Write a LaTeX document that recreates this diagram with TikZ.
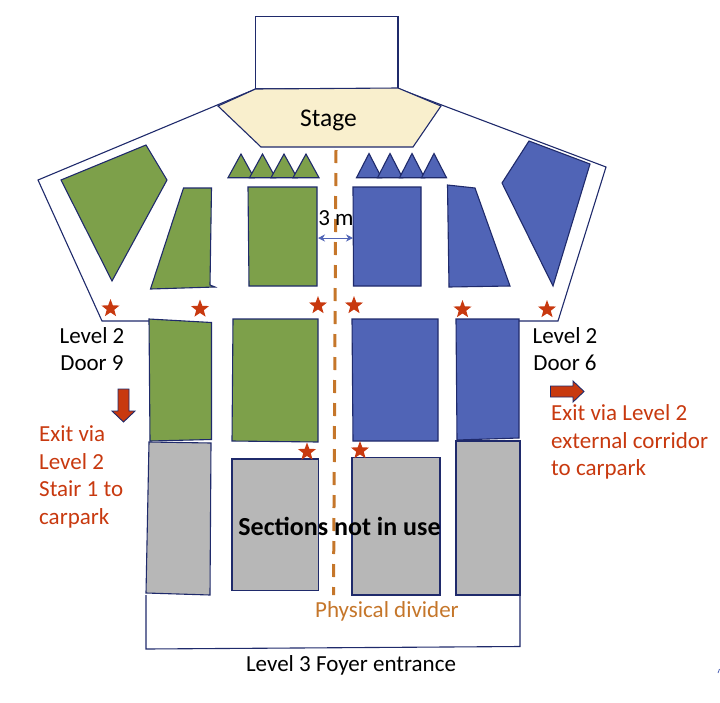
\documentclass[tikz,border=0pt]{standalone}
\usepackage{fontspec}
\setmainfont{Carlito}
\usetikzlibrary{shapes.geometric,arrows.meta}
\definecolor{navy}{HTML}{1F2A6B}
\definecolor{seatgreen}{HTML}{7DA04A}
\definecolor{seatblue}{HTML}{5064B6}
\definecolor{seatgray}{HTML}{B7B7B7}
\definecolor{stagefill}{HTML}{F9EFCD}
\definecolor{dividerorange}{HTML}{C5762A}
\definecolor{exitred}{HTML}{C8390F}
\tikzset{
  wall/.style={draw=navy,line width=1.1pt,line join=miter},
  greenseat/.style={wall,fill=seatgreen},
  blueseat/.style={wall,fill=seatblue},
  grayseat/.style={wall,fill=seatgray},
  stagearea/.style={wall,fill=stagefill},
  exitarrow/.style={draw=navy,line width=0.9pt,fill=exitred},
  exitstar/.style={star,star points=5,star point ratio=2.4,fill=exitred,inner sep=0pt,minimum size=19pt},
  lbl/.style={inner sep=0pt,text=black,font=\fontsize{23}{27.5}\selectfont,align=center},
  redlbl/.style={inner sep=0pt,text=exitred,font=\fontsize{23}{27.8}\selectfont,align=left,anchor=west},
}
\begin{document}
\begin{tikzpicture}[x=1pt,y=-1pt]
\useasboundingbox (0,0) rectangle (720,702);
% outline
\draw[wall] (255.5,16.5) rectangle (398,88.5);
\draw[wall] (149,321) -- (102,321) -- (38,180) -- (255.5,89);
\draw[wall] (398,88.5) -- (606,167) -- (558,321) -- (519,321);
\draw[wall] (146,595) -- (146,649) -- (520,646.5) -- (520,595);
% stage
\draw[stagearea] (218,106) -- (255.5,89) -- (398,88) -- (441,106) -- (413,147) -- (261,147) -- cycle;
% green upper
\draw[greenseat] (61,180) -- (146,145) -- (167,180) -- (112,281) -- cycle;
\draw[greenseat] (183.5,188) -- (211.5,188) -- (210,285) -- (215,287) -- (150.5,289) -- cycle;
\draw[greenseat] (248,187) -- (317,187) -- (317,286) -- (249,286) -- cycle;
\foreach \a in {241,262.5,284,306}
  \draw[greenseat] (\a-13,177.7) -- (\a,154) -- (\a+13,177.7) -- cycle;
% blue upper
\foreach \a in {369,390,412,434}
  \draw[blueseat] (\a-12.5,177.7) -- (\a,153.5) -- (\a+12.5,177.7) -- cycle;
\draw[blueseat] (353,187) -- (421,187) -- (421,286) -- (353.5,286) -- cycle;
\draw[blueseat] (447.5,185) -- (475,188) -- (510,286) -- (449,287) -- cycle;
\draw[blueseat] (529,141) -- (590,164) -- (553,286) -- (502,183) -- cycle;
% gray
\draw[grayseat] (149,442) -- (211,443) -- (210,595) -- (146,593) -- cycle;
\draw[grayseat] (232,459) rectangle (318.5,590.5);
\draw[grayseat] (352,457.5) rectangle (440,595);
\draw[grayseat] (456,441) rectangle (520,595);
% lower green and blue
\draw[greenseat] (149,319) -- (211.5,322.5) -- (211.5,439.5) -- (150,441) -- cycle;
\draw[greenseat] (233,319) -- (318,319) -- (318,442) -- (232,441) -- cycle;
\draw[blueseat] (352,319) -- (438,319) -- (438,441) -- (353,441) -- cycle;
\draw[blueseat] (456,319) -- (519,319) -- (519,438) -- (457,440) -- cycle;
% divider
\coordinate (divtop) at (336,150);
\coordinate (divbottom) at (333.5,595);
\draw[dividerorange,line width=3pt,dash pattern=on 13pt off 10pt] (divtop) -- (divbottom);
% stars
\node[exitstar] (s1) at (110.5,308.5) {};
\node[exitstar] (s2) at (200,309) {};
\node[exitstar] (s3) at (318,305.5) {};
\node[exitstar] (s4) at (354,305.5) {};
\node[exitstar] (s5) at (462.5,309.5) {};
\node[exitstar] (s6) at (547,309.5) {};
\node[exitstar] (s7) at (307,452) {};
\node[exitstar] (s8) at (360,450.5) {};
% 3 m arrow
\coordinate (gapl) at (318,238);
\coordinate (gapr) at (353,238);
\draw[seatblue,line width=0.9pt,{Stealth[length=7pt,width=7pt]}-{Stealth[length=7pt,width=7pt]}] (gapl) -- (gapr);
% exit arrows
\draw[exitarrow] (118,389) -- (129,389) -- (129,411) -- (135,411) -- (123.5,422) -- (112,411) -- (118,411) -- cycle;
\draw[exitarrow] (550.5,386) -- (573,386) -- (573,381) -- (584,391.5) -- (573,402) -- (573,397) -- (550.5,397) -- cycle;
% small mark
\draw[seatblue,line width=0.8pt] (718,673) -- (719.5,669);
% text
\node[lbl,font=\fontsize{25.5}{30}\selectfont] (stage) at (328.5,120.5) {Stage};
\node[lbl] (threem) at (336,218) {3 m};
\node[lbl] (door9) at (92,349) {Level 2\\Door 9};
\node[lbl] (door6) at (565,349) {Level 2\\Door 6};
\node[redlbl] (exitl) at (39,477) {Exit via\\Level 2\\Stair 1 to\\carpark};
\node[redlbl] (exitr) at (551,442) {Exit via Level 2\\external corridor\\to carpark};
\node[lbl,font=\fontsize{26}{30}\bfseries\selectfont] (notuse) at (339.5,526) {Sections not in use};
\node[lbl,text=dividerorange] (divlabel) at (387,611.5) {Physical divider};
\node[lbl] (foyer) at (351,665.5) {Level 3 Foyer entrance};
\end{tikzpicture}
\end{document}
